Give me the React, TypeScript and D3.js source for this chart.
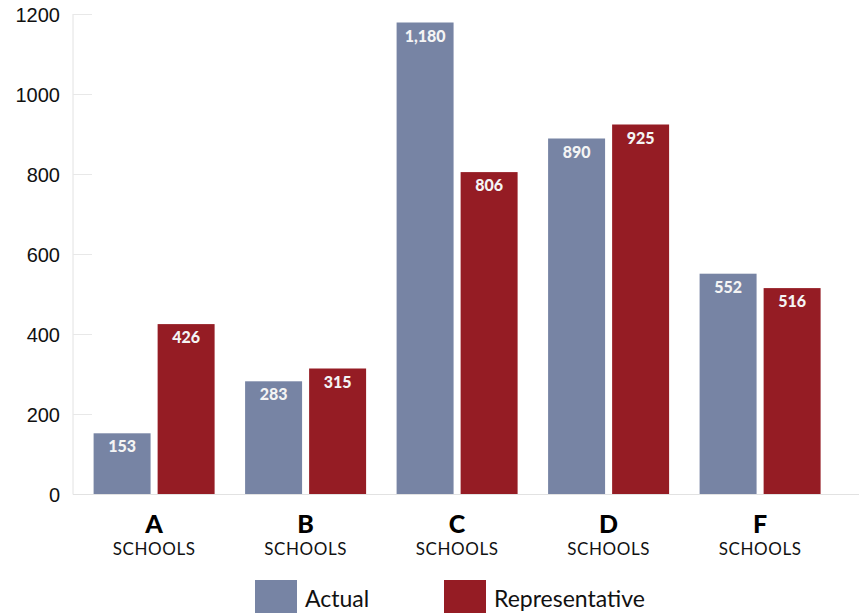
import React from "react";
import * as d3 from "d3";

const categories = ["A", "B", "C", "D", "F"];
const actual = [153, 283, 1180, 890, 552];
const representative = [426, 315, 806, 925, 516];
const yTicks = [0, 200, 400, 600, 800, 1000, 1200];
const seriesNames = ["Actual", "Representative"];
const colors = ["#7784a4", "#951c24"];

export default function App() {
  const W = 859, H = 613;
  const x0 = d3.scaleBand().domain(categories).range([93.6, 820.6]).paddingInner(0.2013).paddingOuter(0);
  const x1 = d3.scaleBand().domain(seriesNames).range([0, x0.bandwidth()]).paddingInner(0.11);
  const y = d3.scaleLinear().domain([0, 1200]).range([494.5, 14.5]);
  const fmt = d3.format(",");
  const data = [actual, representative];
  const font = "Lato, 'Open Sans', sans-serif";
  return (
    <svg width={W} height={H} style={{ position: "absolute", left: 0, top: 0, background: "#fff" }}>
      <line x1={73} x2={73} y1={14} y2={494.5} stroke="#e2e2e2" strokeWidth={1} />
      {yTicks.map((t) => (
        <g key={t}>
          <line x1={73} x2={92} y1={y(t)} y2={y(t)} stroke="#e8e8e8" strokeWidth={1} />
          <text x={60} y={y(t)} dy="0.36em" textAnchor="end" fontFamily="'Liberation Sans', Arial, sans-serif" fontSize={20} fill="#111">{t}</text>
        </g>
      ))}
      {categories.map((c, i) => (
        <g key={c}>
          {seriesNames.map((s, j) => {
            const v = data[j][i];
            const bx = (x0(c) as number) + (x1(s) as number);
            return (
              <g key={s}>
                <rect x={bx} y={y(v)} width={x1.bandwidth()} height={y(0) - y(v)} fill={colors[j]} />
                <text x={bx + x1.bandwidth() / 2} y={y(v) + 19} textAnchor="middle" fontFamily={font} fontWeight={900} fontSize={16} fill="#f4f4f4">{fmt(v)}</text>
              </g>
            );
          })}
          <text x={(x0(c) as number) + x0.bandwidth() / 2} y={533} textAnchor="middle" fontFamily={font} fontWeight={900} fontSize={25} fill="#000">{c}</text>
          <text x={(x0(c) as number) + x0.bandwidth() / 2} y={555} textAnchor="middle" fontFamily={font} fontSize={17} letterSpacing={0.6} fill="#111">SCHOOLS</text>
        </g>
      ))}
      <line x1={73} x2={W} y1={494.5} y2={494.5} stroke="#e2e2e2" strokeWidth={1.2} />
      {seriesNames.map((s, j) => {
        const lx = [255, 444][j];
        return (
          <g key={s}>
            <rect x={lx} y={580} width={42} height={40} fill={colors[j]} />
            <text x={lx + 50} y={607} fontFamily={font} fontSize={23} fill="#111">{s}</text>
          </g>
        );
      })}
    </svg>
  );
}
